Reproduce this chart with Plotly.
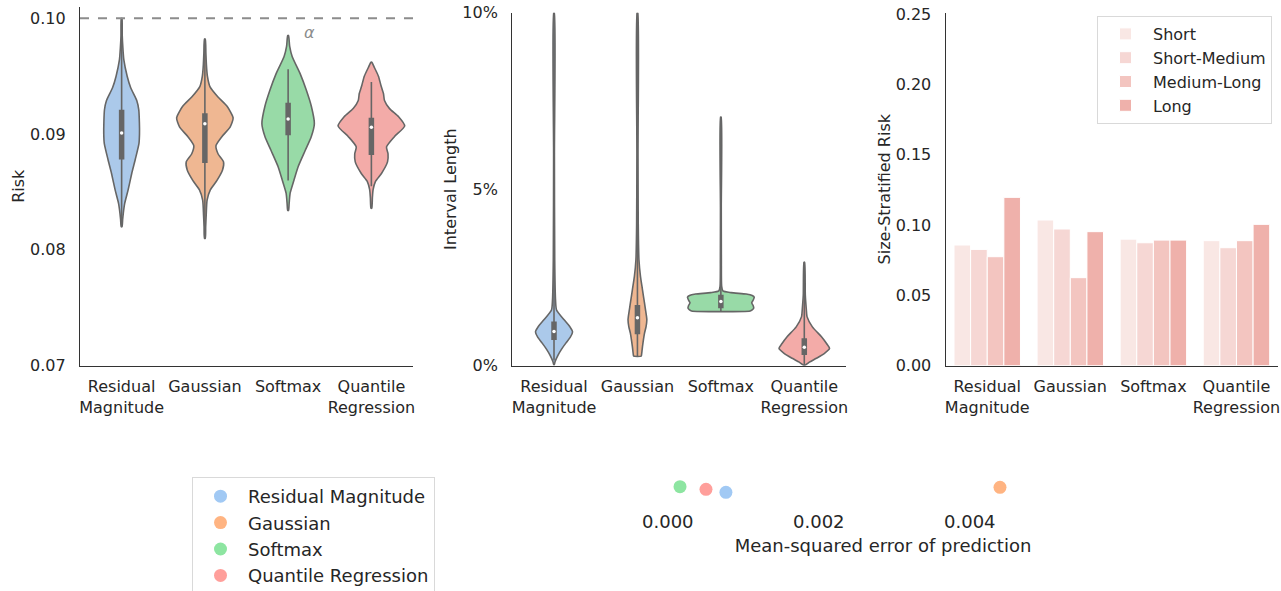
import plotly.graph_objects as go

# ---------------- data ----------------
methods = ["Residual Magnitude", "Gaussian", "Softmax", "Quantile Regression"]
tick_text = ["Residual<br>Magnitude", "Gaussian", "Softmax", "Quantile<br>Regression"]

# Risk violins: y-levels (risk) and relative density (half-width, 33 = widest violin)
risk_y_resid = [0.1000, 0.0985, 0.0975, 0.0964, 0.0950, 0.0940, 0.0929, 0.0921, 0.0910, 0.0900, 0.0892, 0.0878, 0.0866, 0.0852, 0.0840, 0.0832, 0.0826, 0.0820]
risk_d_resid = [0.3, 0.6, 1.2, 2.2, 5.5, 9, 15, 17, 17.6, 17.7, 17.2, 13.5, 10, 6.5, 3, 1.7, 1, 0.4]
risk_y_gauss = [0.0982, 0.0970, 0.0960, 0.0950, 0.0941, 0.0932, 0.0924, 0.0914, 0.0906, 0.0898, 0.0890, 0.0883, 0.0876, 0.0869, 0.0860, 0.0852, 0.0843, 0.0830, 0.0820, 0.0810]
risk_d_gauss = [0.4, 1, 1.5, 2.5, 5, 13, 22, 28, 25, 17, 11, 13, 18.5, 17.5, 12, 5.5, 2.2, 1.3, 0.8, 0.4]
risk_y_soft = [0.0985, 0.0976, 0.0967, 0.0952, 0.0938, 0.0924, 0.0909, 0.0898, 0.0886, 0.0872, 0.0860, 0.0849, 0.0840, 0.0834]
risk_d_soft = [0.4, 1.5, 4, 12, 18, 23, 26, 23, 17, 10, 5.7, 2, 1, 0.4]
risk_y_quant = [0.0962, 0.0958, 0.0950, 0.0942, 0.0935, 0.0929, 0.0922, 0.0915, 0.0907, 0.0898, 0.0889, 0.0883, 0.0876, 0.0866, 0.0859, 0.0852, 0.0845, 0.0836]
risk_d_quant = [0.4, 2.7, 7, 9.5, 12, 13, 18, 27, 33, 23, 15, 16.5, 16, 10, 4, 1.7, 1, 0.4]

# box stats (whisker low, q1, median, q3, whisker high)
risk_box = [
    [0.0822, 0.0878, 0.0901, 0.0921, 0.1000],
    [0.0810, 0.0875, 0.0909, 0.0918, 0.0982],
    [0.0860, 0.0899, 0.0913, 0.0927, 0.0956],
    [0.0855, 0.0882, 0.0906, 0.0914, 0.0945],
]

# Interval length violins
len_y_resid = [0.100, 0.060, 0.030, 0.0186, 0.0158, 0.0130, 0.0113, 0.0096, 0.0080, 0.0064, 0.0047, 0.0030, 0.0011, 0.0003]
len_d_resid = [0.3, 0.4, 0.7, 1.5, 2.5, 10, 15, 18.3, 16, 11.7, 7.5, 4, 1, 0.3]
len_y_gauss = [0.100, 0.060, 0.040, 0.030, 0.0253, 0.0215, 0.0177, 0.0139, 0.0130, 0.0110, 0.0092, 0.0054, 0.0030, 0.0027]
len_d_gauss = [0.3, 0.5, 0.8, 1.5, 3, 5, 7, 9, 9.3, 8.5, 7, 5, 4, 3.7]
len_y_soft = [0.0704, 0.045, 0.030, 0.0225, 0.0212, 0.0207, 0.0203, 0.0199, 0.0194, 0.0186, 0.0178, 0.0170, 0.0163, 0.0158, 0.0155]
len_d_soft = [0.3, 0.4, 0.5, 0.8, 2, 10, 25, 31, 33, 32, 30.5, 32, 32.5, 31, 29]
len_y_quant = [0.0293, 0.0200, 0.0160, 0.0139, 0.0110, 0.0082, 0.0063, 0.0049, 0.0035, 0.0021, 0.0010, 0.0002]
len_d_quant = [0.3, 1, 2, 2.7, 8, 17, 22, 25, 20, 12, 5, 1]

len_box = [
    [0.0015, 0.0073, 0.0097, 0.0125, 0.1000],
    [0.0027, 0.0089, 0.0136, 0.0172, 0.1000],
    [0.0155, 0.0163, 0.0182, 0.0201, 0.0704],
    [0.0002, 0.0030, 0.0052, 0.0078, 0.0293],
]

# Size-stratified risk
strata = ["Short", "Short-Medium", "Medium-Long", "Long"]
risk_short = [0.0858, 0.1036, 0.0900, 0.0889]
risk_short_medium = [0.0827, 0.0972, 0.0874, 0.0839]
risk_medium_long = [0.0775, 0.0626, 0.0893, 0.0889]
risk_long = [0.1197, 0.0953, 0.0893, 0.1005]

# MSE of prediction
mse = [0.00077, 0.00440, 0.000162, 0.000506]
mse_jitter = [12.7, 17.7, 18.3, 15.7]

alpha_level = 0.10

# ---------------- style ----------------
W, H = 1281, 591
FONT = "DejaVu Sans"
TXT = "#262626"
OUTLINE = "#666666"
pastel = ["#a1c9f4", "#ffb482", "#8de5a1", "#ff9f9b"]
violin_fill = ["#abc9ea", "#efb792", "#98daa7", "#f3aba8"]
bar_colors = ["#f9e7e4", "#f6d7d4", "#f3c5c0", "#efb1ab"]
MAXHALF = 0.4   # widest violin half-width in category units
DMAX = 33.0


def px(x):
    return x / W


def py(y):
    return 1 - y / H


fig = go.Figure()


def add_violins(profiles, boxes, xa, ya):
    for i, (ys, ds) in enumerate(profiles):
        hw = [d / DMAX * MAXHALF for d in ds]
        xs = [i - h for h in hw] + [i + h for h in hw[::-1]] + [i - hw[0]]
        yy = list(ys) + list(ys[::-1]) + [ys[0]]
        fig.add_trace(go.Scatter(x=xs, y=yy, mode="lines", fill="toself",
                                 fillcolor=violin_fill[i],
                                 line=dict(color=OUTLINE, width=1.6, shape="spline", smoothing=0.6),
                                 xaxis=xa, yaxis=ya, showlegend=False, hoverinfo="skip"))
        wlo, q1, med, q3, whi = boxes[i]
        fig.add_trace(go.Scatter(x=[i, i], y=[wlo, whi], mode="lines",
                                 line=dict(color=OUTLINE, width=1.6),
                                 xaxis=xa, yaxis=ya, showlegend=False, hoverinfo="skip"))
        fig.add_trace(go.Scatter(x=[i, i], y=[q1, q3], mode="lines",
                                 line=dict(color=OUTLINE, width=5.5),
                                 xaxis=xa, yaxis=ya, showlegend=False, hoverinfo="skip"))
        fig.add_trace(go.Scatter(x=[i], y=[med], mode="markers",
                                 marker=dict(color="white", size=3.5),
                                 xaxis=xa, yaxis=ya, showlegend=False, hoverinfo="skip"))


add_violins([(risk_y_resid, risk_d_resid), (risk_y_gauss, risk_d_gauss),
             (risk_y_soft, risk_d_soft), (risk_y_quant, risk_d_quant)], risk_box, "x", "y")
add_violins([(len_y_resid, len_d_resid), (len_y_gauss, len_d_gauss),
             (len_y_soft, len_d_soft), (len_y_quant, len_d_quant)], len_box, "x2", "y2")

# bars
for name, vals, col in zip(strata, [risk_short, risk_short_medium, risk_medium_long, risk_long], bar_colors):
    fig.add_trace(go.Bar(x=list(range(len(methods))), y=vals, name=name,
                         marker=dict(color=col, line=dict(color="white", width=1)),
                         xaxis="x3", yaxis="y3", legend="legend2", offsetgroup=name))

# MSE scatter
for i, m in enumerate(methods):
    fig.add_trace(go.Scatter(x=[mse[i]], y=[mse_jitter[i]], mode="markers", name=m,
                             marker=dict(color=pastel[i], size=13),
                             xaxis="x4", yaxis="y4", legend="legend", legendgroup=m))

# alpha line
fig.add_shape(type="line", xref="x domain", yref="y", x0=0, x1=1, y0=alpha_level, y1=alpha_level,
              line=dict(color="#8c8c8c", width=2, dash="dash"))
fig.add_annotation(x=2.26, y=0.09873, xref="x", yref="y", text="<i>α</i>", showarrow=False,
                   font=dict(family=FONT, size=16, color="#8c8c8c"))

axis_common = dict(showline=True, linecolor="#333333", linewidth=1.4, showgrid=False, zeroline=False,
                   ticks="", tickfont=dict(family=FONT, size=16, color=TXT))
xcat = dict(axis_common, range=[-0.5, 3.5], tickvals=[0, 1, 2, 3], ticktext=tick_text, ticklabelstandoff=6)

ybot = 365.7
fig.update_layout(
    width=W, height=H, margin=dict(l=0, r=0, t=0, b=0, autoexpand=False),
    paper_bgcolor="white", plot_bgcolor="white",
    font=dict(family=FONT, size=16, color=TXT),
    barmode="group", bargap=0.2, bargroupgap=0,
    xaxis=dict(xcat, domain=[px(80), px(413)], anchor="y"),
    yaxis=dict(axis_common, domain=[py(ybot), py(6.7)], anchor="x", range=[0.07, 0.101],
               tickvals=[0.07, 0.08, 0.09, 0.10], ticktext=["0.07", "0.08", "0.09", "0.10"],
               ticklabelstandoff=10, title=dict(text="Risk", standoff=1, font=dict(size=16))),
    xaxis2=dict(xcat, domain=[px(512.3), px(846)], anchor="y2"),
    yaxis2=dict(axis_common, domain=[py(ybot), py(12.7)], anchor="x2", range=[0, 0.1],
                tickvals=[0, 0.05, 0.1], ticktext=["0%", "5%", "10%"],
                ticklabelstandoff=10, title=dict(text="Interval Length", standoff=1, font=dict(size=16))),
    xaxis3=dict(xcat, domain=[px(945.7), px(1278)], anchor="y3"),
    yaxis3=dict(axis_common, domain=[py(ybot), py(12.7)], anchor="x3", range=[0, 0.251],
                tickvals=[0, 0.05, 0.1, 0.15, 0.2, 0.25],
                ticktext=["0.00", "0.05", "0.10", "0.15", "0.20", "0.25"],
                ticklabelstandoff=10, title=dict(text="Size-Stratified Risk", standoff=1, font=dict(size=16))),
    xaxis4=dict(domain=[px(640), px(1126)], anchor="y4", range=[-0.000368, 0.006069],
                showline=False, showgrid=False, zeroline=False, ticks="",
                tickvals=[0, 0.002, 0.004], ticktext=["0.000", "0.002", "0.004"],
                tickfont=dict(family=FONT, size=18, color=TXT), ticklabelstandoff=4,
                title=dict(text="Mean-squared error of prediction", standoff=8,
                           font=dict(family=FONT, size=18, color=TXT))),
    yaxis4=dict(domain=[py(505), py(470)], anchor="x4", range=[0, 35], visible=False),
    legend=dict(x=px(192), y=py(477), xanchor="left", yanchor="top",
                bordercolor="#d9d9d9", borderwidth=1, bgcolor="white",
                font=dict(family=FONT, size=18, color=TXT), tracegroupgap=0, itemwidth=45),
    legend2=dict(x=px(1097), y=py(16), xanchor="left", yanchor="top",
                 bordercolor="#d9d9d9", borderwidth=1, bgcolor="white",
                 font=dict(family=FONT, size=16, color=TXT), itemwidth=45),
    showlegend=True,
)

fig.write_html("out.html", config={"displayModeBar": False},
               post_script="document.body.style.margin='0';")
